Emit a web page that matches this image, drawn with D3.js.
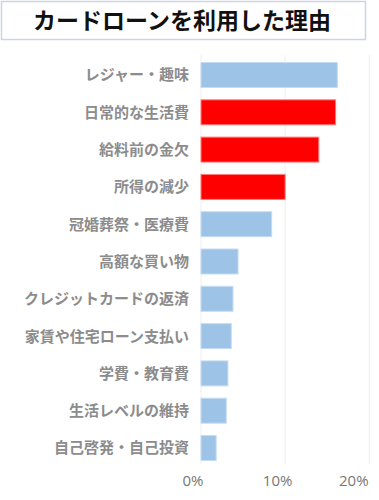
<!DOCTYPE html>
<html>
<head>
<meta charset="utf-8">
<script src="https://cdn.jsdelivr.net/npm/d3@7"></script>
<style>
  html, body { margin: 0; padding: 0; background: #fff; }
  svg { display: block; }
</style>
</head>
<body>
<svg id="chart" width="379" height="500"></svg>
<script>
const title = "カードローンを利用した理由";
const categories = [
  "レジャー・趣味",
  "日常的な生活費",
  "給料前の金欠",
  "所得の減少",
  "冠婚葬祭・医療費",
  "高額な買い物",
  "クレジットカードの返済",
  "家賃や住宅ローン支払い",
  "学費・教育費",
  "生活レベルの維持",
  "自己啓発・自己投資"
];
const values = [16.2, 16.0, 14.0, 10.0, 8.4, 4.4, 3.8, 3.6, 3.2, 3.0, 1.8];
const highlighted = [false, true, true, true, false, false, false, false, false, false, false];
const tickValues = [0, 10, 20];
const tickLabels = ["0%", "10%", "20%"];

const svg = d3.select("#chart");
const font = "'Noto Sans CJK JP', 'Noto Sans', sans-serif";

// Title box
svg.append("rect")
  .attr("x", 1.5).attr("y", 1.5)
  .attr("width", 364).attr("height", 38)
  .attr("fill", "#fff")
  .attr("stroke", "#cfd4e3").attr("stroke-width", 1.5);
svg.append("text")
  .attr("x", 182).attr("y", 29)
  .attr("text-anchor", "middle")
  .attr("font-family", font)
  .attr("font-weight", "bold")
  .attr("font-size", 23)
  .attr("fill", "#111")
  .text(title);

const x = d3.scaleLinear().domain([0, 20]).range([201, 369.3]);
const y = d3.scaleBand().domain(categories)
  .range([56.35, 466.65])
  .paddingInner(0.33).paddingOuter(0.165);

// gridlines
svg.append("g").selectAll("line").data(tickValues).join("line")
  .attr("x1", d => x(d)).attr("x2", d => x(d))
  .attr("y1", 55).attr("y2", 464)
  .attr("stroke", "#efefef").attr("stroke-width", 1);

// bars
svg.append("g").selectAll("rect").data(categories).join("rect")
  .attr("x", x(0))
  .attr("y", d => y(d))
  .attr("width", (d, i) => x(values[i]) - x(0))
  .attr("height", y.bandwidth())
  .attr("fill", (d, i) => highlighted[i] ? "#ff0000" : "#9dc3e6")
  .attr("stroke", (d, i) => highlighted[i] ? "#ff8080" : "#c5dcf2")
  .attr("stroke-width", 1);

// category labels
svg.append("g").selectAll("text").data(categories).join("text")
  .attr("x", 189)
  .attr("y", d => y(d) + y.bandwidth() / 2)
  .attr("dy", "0.36em")
  .attr("text-anchor", "end")
  .attr("font-family", font)
  .attr("font-weight", "bold")
  .attr("font-size", 15)
  .attr("fill", "#8c8c8c")
  .text(d => d);

// x axis tick labels
const labelShift = [-8.5, -8, -16];
const xAxis = d3.axisBottom(x).tickValues(tickValues)
  .tickFormat((d, i) => tickLabels[i]).tickSize(0).tickPadding(0);
const gx = svg.append("g").attr("transform", "translate(0,475)").call(xAxis);
gx.select(".domain").remove();
gx.selectAll("text")
  .attr("font-family", "'Open Sans', 'Noto Sans', sans-serif")
  .attr("font-size", 15)
  .attr("fill", "#777")
  .attr("dx", (d, i) => labelShift[i]);
</script>
</body>
</html>
